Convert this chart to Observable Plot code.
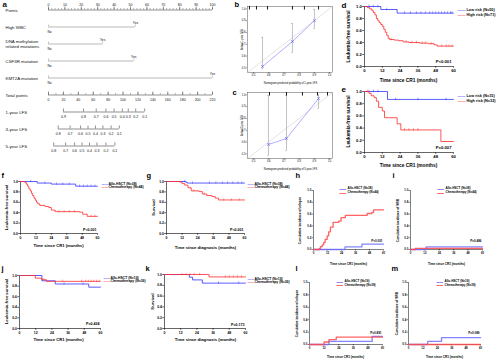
<!DOCTYPE html>
<html><head><meta charset="utf-8">
<script src="https://cdn.jsdelivr.net/npm/d3@7"></script>
<script src="https://cdn.jsdelivr.net/npm/@observablehq/plot@0.6"></script>
<style>
html,body{margin:0;padding:0;background:#fff;}
#wrap{position:relative;width:500px;height:362px;overflow:hidden;background:#fff;}
#wrap svg{position:absolute;overflow:visible;background:transparent;max-width:none;}
</style></head><body><div id="wrap"></div>
<script>
// ---------------- DATA ----------------
// a: nomogram
const nomoRows = ["Points","High WBC","DNA methylation related mutations","CSF3R mutation","KMT2A mutation","Total points","1-year LFS","3-year LFS","5-year LFS"];
const nomoRowLabels = ["Points","High WBC","DNA methylation\nrelated mutations","CSF3R mutation","KMT2A mutation","Total points","1-year LFS","3-year LFS","5-year LFS"];
const nomoVars = ["High WBC","DNA methylation related mutations","CSF3R mutation","KMT2A mutation"];
const nomoLevels = ["No","Yes"];
const nomoNoPoints = [0,0,0,0];
const nomoYesPoints = [53,33,52,100];
const pointTicks = [0,10,20,30,40,50,60,70,80,90,100];
const totalPointTicks = [0,20,40,60,80,100,120,140,160,180,200,220];
const totalPointSpan = 220;
const lfs1Labels = ["0.9","0.8","0.7","0.6","0.5","0.4","0.3","0.2","0.1"];
const lfs1Total = [20,47,64,77,88,99,107,117,129];
const lfs3Labels = ["0.8","0.7","0.6","0.5","0.4","0.3","0.2","0.1"];
const lfs3Total = [13,29,43,53,63,73,84,95];
const lfs5Labels = ["0.8","0.7","0.6","0.5","0.4","0.3","0.2","0.1"];
const lfs5Total = [7,23,35,45,55,65,77,89];

// b, c: calibration
const calibDomain = [0.46, 1.02];
const calibTicks = [0.5,0.6,0.7,0.8,0.9,1.0];
const bPred = [0.559,0.756,0.901];
const bObs  = [0.511,0.723,0.901];
const bLo   = [0.494,0.630,0.833];
const bHi   = [0.757,0.876,0.995];
const bRug  = [0.473,0.519,0.592,0.756,0.835,0.928];
const cPred = [0.598,0.717,0.928];
const cObs  = [0.579,0.630,0.969];
const cLo   = [0.485,0.528,0.884];
const cHi   = [0.995,0.995,1.0];
const cRug  = [0.605,0.717,0.822,0.921,0.987];

// survival axes
const monthTicks = [0,12,24,36,48,60];
const probTicks = [0,0.2,0.4,0.6,0.8,1.0];

// d
const dLowT = [0,11,22,60];            const dLowS = [1,0.95,0.89,0.89];
const dLowC = [3,6,9,15,27,31,35,38,41,44,46,48,50,52,54,56,58,59];
const dHighT = [0,2,3.5,5,6,7,8,9,10,11,12,13,14,15,16,17,20,23,26,30,37,43,47,49,60];
const dHighS = [1,0.98,0.96,0.93,0.90,0.86,0.80,0.76,0.73,0.70,0.67,0.62,0.57,0.52,0.47,0.45,0.44,0.43,0.41,0.40,0.39,0.38,0.36,0.34,0.34];
const dHighC = [18,28,32,35,39,41,45,52,55,57,59];
// e
const eLowT = [0,15.5,60];             const eLowS = [1,0.87,0.87];
const eLowC = [3,6,9,21,36,55];
const eHighT = [0,3,4.5,6.5,8,9.5,12,13.5,22,24.5,51.5,60];
const eHighS = [1,0.97,0.93,0.90,0.84,0.74,0.68,0.57,0.47,0.37,0.18,0.18];
const eHighC = [2,27,30,33,36];
// f
const fAlloT = [0,13,24,43,60];        const fAlloS = [1,0.97,0.95,0.91,0.91];
const fAlloC = [8,19,28,33,38,46,49,52,55,58];
const fChemoT = [0,3.5,4.5,5.5,6.5,7.5,8.5,9.5,10.5,11.5,12.5,13.5,15,19,22,24,27,46,48.5,52,60];
const fChemoS = [1,0.98,0.95,0.91,0.86,0.82,0.77,0.73,0.68,0.64,0.60,0.57,0.54,0.52,0.50,0.45,0.42,0.41,0.37,0.33,0.33];
const fChemoC = [30,34,38,42,55,58];
// g
const gAlloT = [0,15,16,60];           const gAlloS = [1,0.98,0.97,0.97];
const gAlloC = [14,20,33,38,43,47,51,55,58];
const gChemoT = [0,10,12,14,16.5,19,25,27.5,31,35,37.5,40,60];
const gChemoS = [1,0.99,0.96,0.93,0.88,0.82,0.81,0.76,0.73,0.71,0.68,0.645,0.645];
const gChemoC = [21,29,44,50,56];
// h (cumulative incidence of relapse)
const hAlloT = [0,27,41.5,60];         const hAlloS = [0,0.045,0.09,0.09];
const hChemoT = [0,5,6,7.5,8.8,10,11.7,13,14.5,16.8,21.6,23.6,27.3,46,50,51.5,60];
const hChemoS = [0,0.02,0.05,0.08,0.12,0.17,0.23,0.30,0.38,0.46,0.48,0.54,0.58,0.61,0.63,0.67,0.67];
// i (cumulative incidence of NRM)
const iAlloT = [0,13,60];              const iAlloS = [0,0.045,0.045];
const iChemoT = [0,4,60];              const iChemoS = [0,0.02,0.02];
// j
const jAlloT = [0,16.6,26.5,51.3,60];  const jAlloS = [1,0.90,0.84,0.78,0.78];
const jAlloC = [33,47];
const jChemoT = [0,11.7,16.6,20,60];   const jChemoS = [1,0.95,0.92,0.89,0.89];
const jChemoC = [18,32,46,49,51,53,55,57,59];
// k
const kAlloT = [0,18.4,20.8,28,60];    const kAlloS = [1,0.95,0.90,0.84,0.84];
const kAlloC = [40,55];
const kChemoT = [0,33,60];             const kChemoS = [1,0.955,0.955];
const kChemoC = [13,16,19,22,26,45,48,51,54,57];
// l
const lAlloT = [0,16,51.5,60];         const lAlloS = [0,0.05,0.13,0.13];
const lChemoT = [0,12,16,22,60];       const lChemoS = [0,0.04,0.08,0.12,0.12];
// m
const mAlloT = [0,16,27.5,60];         const mAlloS = [0,0.05,0.11,0.11];
const mChemoT = [0,60];                const mChemoS = [0,0];

// ---------------- HELPERS ----------------
const wrap = document.getElementById("wrap");
const FONT = "'Liberation Sans', Arial, Helvetica, sans-serif";
const BLUE = "#3232ff", RED = "#ff2a2a";
const CBLUE = "#6f6fff", CRED = "#ff4848";

function mount(svg, box){ svg.style.left = box[0]+"px"; svg.style.top = box[1]+"px"; wrap.appendChild(svg); }
function at(frame, x, y){ return {frameAnchor:"top-left", textAnchor:"middle", lineAnchor:"middle", dx: x - frame[0], dy: y - frame[1]}; }
function margins(box, frame){
  return {width: box[2], height: box[3], marginLeft: frame[0]-box[0], marginTop: frame[1]-box[1],
          marginRight: box[0]+box[2]-frame[2], marginBottom: box[1]+box[3]-frame[3]};
}
const toPts = (T, S) => T.map((t, i) => ({t, s: S[i]}));
const stepAt = (T, S, t) => { let v = S[0]; for (let i = 0; i < T.length; i++) if (T[i] <= t) v = S[i]; return v; };

function curvePanel(o){
  const f = o.frame;
  const marks = [
    Plot.ruleX([monthTicks[0]], {stroke:"#000", strokeWidth:o.axisW}),
    Plot.ruleY([probTicks[0]], {stroke:"#000", strokeWidth:o.axisW}),
    Plot.axisX({ticks: monthTicks, tickSize: o.tickLen, tickPadding: 0.8, fontSize: o.tickFont, strokeWidth: o.axisW, tickFormat: d => String(d), label: null}),
    Plot.axisY({ticks: probTicks, tickSize: o.tickLen, tickPadding: 0.8, fontSize: o.tickFont, strokeWidth: o.axisW, tickFormat: d3.format(".1f"), label: null})
  ];
  o.series.forEach((s, i) => {
    marks.push(Plot.line(toPts(s.T, s.S), {x:"t", y:"s", curve:"step-after", stroke:s.color, strokeWidth:o.lineW, strokeOpacity:o.lineOpacity}));
    if (s.C) marks.push(Plot.ruleX(s.C.map(t => ({t, s: stepAt(s.T, s.S, t)})),
      {x:"t", y1: d => d.s - 0.022, y2: d => d.s + 0.022, stroke:s.color, strokeWidth:0.45}));
    marks.push(Plot.text([o.swatch], {...at(f, o.legSwatchX, o.legY[i]), textAnchor:"start", fill:s.color, fillOpacity:o.lineOpacity, fontSize:o.swatchFont}));
    marks.push(Plot.text([s.name], {...at(f, o.legTextX, o.legY[i]), textAnchor:"start", fontSize:o.legFont}));
  });
  marks.push(Plot.text([o.p], {...at(f, o.pPos[0], o.pPos[1]), textAnchor:"end", fontSize:o.pFont}));
  marks.push(Plot.text([o.xTitle], {...at(f, o.xTitlePos[0], o.xTitlePos[1]), fontSize:o.titleFont}));
  marks.push(Plot.text([o.yTitle], {...at(f, o.yTitlePos[0], o.yTitlePos[1]), rotate:-90, fontSize:o.titleFont}));
  marks.push(Plot.text([o.letter], {...at(f, o.letterPos[0], o.letterPos[1]), textAnchor:"start", fontSize:o.letterFont}));
  const svg = Plot.plot({
    ...margins(o.box, f),
    x: {domain:[monthTicks[0], monthTicks[monthTicks.length-1]]},
    y: {domain:[probTicks[0], probTicks[probTicks.length-1]]},
    style: {fontFamily: FONT, fontWeight: "bold", background: "transparent", overflow: "visible"},
    marks
  });
  mount(svg, o.box);
}

const kmBase = {axisW:0.6, tickLen:1.8, lineW:0.8, lineOpacity:1, swatch:"——", swatchFont:4, letterFont:8};
const ciBase = {axisW:0.5, tickLen:1.5, lineW:1.3, lineOpacity:0.85, swatch:"▬▬", swatchFont:3.2, letterFont:8};

// ---------------- a: NOMOGRAM ----------------
{
  const varData = nomoVars.map((v, i) => ({v, no: nomoNoPoints[i], yes: nomoYesPoints[i]}));
  const varEnds = varData.flatMap(d => [{v:d.v, x:d.no}, {v:d.v, x:d.yes}]);
  const pointMinor = d3.range(pointTicks[0], pointTicks[pointTicks.length-1] + 1, 2);
  const totalMinor = d3.range(totalPointTicks[0], totalPointTicks[totalPointTicks.length-1] + 1, 10);
  const tp = v => v * 100 / totalPointSpan;
  const lfsAxes = [
    {row:"1-year LFS", labels:lfs1Labels, total:lfs1Total},
    {row:"3-year LFS", labels:lfs3Labels, total:lfs3Total},
    {row:"5-year LFS", labels:lfs5Labels, total:lfs5Total}
  ];
  const lfsTicks = lfsAxes.flatMap(a => a.labels.map((lab, i) => ({row:a.row, lab, x: tp(a.total[i])})));
  const lfsLines = lfsAxes.map(a => ({row:a.row, x1: tp(d3.min(a.total)), x2: tp(d3.max(a.total))}));
  const AX = "#222";
  const svg = Plot.plot({
    width: 222, height: 160, marginLeft: 48, marginRight: 10, marginTop: 0, marginBottom: 0,
    x: {domain: [0, 100], axis: null},
    y: {type: "band", domain: nomoRows, range: [0.5, 153.5], padding: 0, axis: null},
    style: {fontFamily: FONT, background: "transparent", overflow: "visible", color: "#111"},
    marks: [
      Plot.text(nomoRows, {y: d => d, frameAnchor: "left", dx: -43, textAnchor: "start", text: (d, i) => nomoRowLabels[i], fontSize: 4.4, lineHeight: 1.15}),
      // points axis
      Plot.ruleY(["Points"], {y: d => d, x1: () => pointTicks[0], x2: () => pointTicks[pointTicks.length-1], stroke: AX, strokeWidth: 0.5}),
      Plot.tickX(pointMinor, {x: d => d, y: () => "Points", insetTop: 7, insetBottom: 8.5, stroke: AX, strokeWidth: 0.35}),
      Plot.tickX(pointTicks, {x: d => d, y: () => "Points", insetTop: 5.5, insetBottom: 8.5, stroke: AX, strokeWidth: 0.5}),
      Plot.text(pointTicks, {x: d => d, y: () => "Points", dy: -5.2, fontSize: 3.5}),
      // predictors
      Plot.ruleY(varData, {y: "v", x1: "no", x2: "yes", stroke: "#8a8a8a", strokeWidth: 0.6}),
      Plot.tickX(varEnds, {x: "x", y: "v", insetTop: 6.5, insetBottom: 8.5, stroke: "#8a8a8a", strokeWidth: 0.5}),
      Plot.text(varData, {x: "no", y: "v", dy: 4.6, dx: 1, text: () => nomoLevels[0], fontSize: 3.3}),
      Plot.text(varData, {x: "yes", y: "v", dy: -4, text: () => nomoLevels[1], fontSize: 3.3}),
      // total points
      Plot.ruleY(["Total points"], {y: d => d, x1: () => tp(totalPointTicks[0]), x2: () => tp(totalPointTicks[totalPointTicks.length-1]), stroke: AX, strokeWidth: 0.5}),
      Plot.tickX(totalMinor, {x: d => tp(d), y: () => "Total points", insetTop: 7, insetBottom: 8.5, stroke: AX, strokeWidth: 0.35}),
      Plot.tickX(totalPointTicks, {x: d => tp(d), y: () => "Total points", insetTop: 5.5, insetBottom: 8.5, stroke: AX, strokeWidth: 0.5}),
      Plot.text(totalPointTicks, {x: d => tp(d), y: () => "Total points", dy: 4.6, fontSize: 3.5}),
      // LFS axes
      Plot.ruleY(lfsLines, {y: "row", x1: "x1", x2: "x2", stroke: AX, strokeWidth: 0.5}),
      Plot.tickX(lfsTicks, {x: "x", y: "row", insetTop: 5.5, insetBottom: 8.5, stroke: AX, strokeWidth: 0.5}),
      Plot.text(lfsTicks, {x: "x", y: "row", text: "lab", dy: 4.6, fontSize: 3.5}),
      Plot.text(["a"], {frameAnchor: "top-left", textAnchor: "start", lineAnchor: "middle", dx: -46, dy: 3.5, fontSize: 8, fontWeight: "bold"})
    ]
  });
  mount(svg, [0, 0]);
}

// ---------------- b, c: CALIBRATION ----------------
function calibPanel(o){
  const f = o.frame;
  const pts = o.pred.map((x, i) => ({x, y: o.obs[i], lo: o.lo[i], hi: o.hi[i]}));
  const capW = 0.006;
  const top = calibDomain[1];
  const svg = Plot.plot({
    ...margins(o.box, f),
    x: {domain: calibDomain}, y: {domain: calibDomain},
    style: {fontFamily: FONT, background: "transparent", overflow: "visible"},
    marks: [
      Plot.frame({stroke: "#555", strokeWidth: 0.5}),
      Plot.axisX({ticks: calibTicks, tickSize: 1.5, tickPadding: 0.6, fontSize: 2.6, strokeWidth: 0.4, tickFormat: d3.format(".1f"), label: null}),
      Plot.axisY({ticks: calibTicks, tickSize: 1.5, tickPadding: 0.6, fontSize: 2.6, strokeWidth: 0.4, tickFormat: d3.format(".1f"), label: null}),
      Plot.line(calibDomain.map(v => ({v})), {x: "v", y: "v", stroke: "#c8c8c8", strokeWidth: 0.5}),
      Plot.ruleX(pts, {x: "x", y1: "lo", y2: "hi", stroke: "#9a9a9a", strokeWidth: 0.6}),
      Plot.ruleY(pts, {y: "lo", x1: d => d.x - capW, x2: d => d.x + capW, stroke: "#9a9a9a", strokeWidth: 0.5}),
      Plot.ruleY(pts, {y: "hi", x1: d => d.x - capW, x2: d => d.x + capW, stroke: "#9a9a9a", strokeWidth: 0.5}),
      Plot.line(pts, {x: "x", y: "y", stroke: "#8c8cff", strokeWidth: 0.7}),
      Plot.dot(pts, {x: "x", y: "y", symbol: "times", r: 1.3, stroke: "#5555ff", strokeWidth: 0.6}),
      Plot.ruleX(o.rug, {x: d => d, y1: () => top, y2: () => top - 0.03, stroke: "#000", strokeWidth: 0.9}),
      Plot.text([o.xTitle], {...at(f, o.xTitlePos[0], o.xTitlePos[1]), fontSize: 2.6}),
      Plot.text([o.yTitle], {...at(f, o.yTitlePos[0], o.yTitlePos[1]), rotate: -90, fontSize: 2.6}),
      Plot.text([o.letter], {...at(f, o.letterPos[0], o.letterPos[1]), fontSize: 7.5, fontWeight: "bold", textAnchor: "start"})
    ]
  });
  mount(svg, o.box);
}
calibPanel({box:[222,0,113,88], frame:[247,6,332,72], pred:bPred, obs:bObs, lo:bLo, hi:bHi, rug:bRug,
  xTitle:"Nomogram-predicted probability of 1-year LFS", xTitlePos:[290,83], yTitle:"Actual 1-year LFS", yTitlePos:[242,39],
  letter:"b", letterPos:[234,4]});
calibPanel({box:[222,86,113,86], frame:[247,92,332,158], pred:cPred, obs:cObs, lo:cLo, hi:cHi, rug:cRug,
  xTitle:"Nomogram-predicted probability of 3-year LFS", xTitlePos:[290,169], yTitle:"Actual 3-year LFS", yTitlePos:[242,125],
  letter:"c", letterPos:[232,92]});

// ---------------- d, e ----------------
const riskOpts = {...kmBase, tickFont:4.2, titleFont:4.8, legFont:3.8, pFont:4.2, swatchFont:4};
curvePanel({...riskOpts, box:[335,0,125,85], frame:[364,6,453,66],
  series:[{name:"Low risk (N=50)", color:BLUE, T:dLowT, S:dLowS, C:dLowC},{name:"High risk (N=71)", color:RED, T:dHighT, S:dHighS, C:dHighC}],
  legSwatchX:457, legTextX:466, legY:[9,14], p:"P<0.001", pPos:[451,61],
  xTitle:"Time since CR1 (months)", xTitlePos:[408,80], yTitle:"Leukemia-free survival", yTitlePos:[348,36],
  letter:"d", letterPos:[341,5]});
curvePanel({...riskOpts, box:[335,85,125,85], frame:[364,91,453,152],
  series:[{name:"Low risk (N=15)", color:BLUE, T:eLowT, S:eLowS, C:eLowC},{name:"High risk (N=32)", color:RED, T:eHighT, S:eHighS, C:eHighC}],
  legSwatchX:457, legTextX:466, legY:[95,100], p:"P=0.007", pPos:[451,147],
  xTitle:"Time since CR1 (months)", xTitlePos:[408,165], yTitle:"Leukemia-free survival", yTitlePos:[348,121],
  letter:"e", letterPos:[341,89]});

// ---------------- f, g, j, k ----------------
const smallKM = {...kmBase, tickFont:3.4, titleFont:4.2, legFont:3.4, pFont:3.6, swatchFont:3.2, letterFont:7.5};
curvePanel({...smallKM, box:[0,170,100,82], frame:[20,181,97,233],
  series:[{name:"Allo-HSCT (N=38)", color:BLUE, T:fAlloT, S:fAlloS, C:fAlloC},{name:"Chemotherapy (N=44)", color:RED, T:fChemoT, S:fChemoS, C:fChemoC}],
  legSwatchX:101, legTextX:108, legY:[183,186.5], p:"P<0.001", pPos:[96,229],
  xTitle:"Time since CR1 (months)", xTitlePos:[58,245], yTitle:"Leukemia-free survival", yTitlePos:[6,207],
  letter:"f", letterPos:[1,175]});
curvePanel({...smallKM, box:[146,170,101,82], frame:[166,181,244,233],
  series:[{name:"Allo-HSCT (N=38)", color:BLUE, T:gAlloT, S:gAlloS, C:gAlloC},{name:"Chemotherapy (N=44)", color:RED, T:gChemoT, S:gChemoS, C:gChemoC}],
  legSwatchX:247, legTextX:254, legY:[183,186.5], p:"P<0.001", pPos:[243,229],
  xTitle:"Time since diagnosis (months)", xTitlePos:[205,247], yTitle:"Survival", yTitlePos:[153,207],
  letter:"g", letterPos:[146,175]});
curvePanel({...smallKM, box:[0,263,103,85], frame:[19,275,100,328],
  series:[{name:"Allo-HSCT (N=19)", color:BLUE, T:jAlloT, S:jAlloS, C:jAlloC},{name:"Chemotherapy (N=39)", color:RED, T:jChemoT, S:jChemoS, C:jChemoC}],
  legSwatchX:103, legTextX:110, legY:[277,280.5], p:"P=0.424", pPos:[99,323],
  xTitle:"Time since CR1 (months)", xTitlePos:[58,339], yTitle:"Leukemia-free survival", yTitlePos:[6,301],
  letter:"j", letterPos:[1,268]});
curvePanel({...smallKM, box:[146,263,102,85], frame:[164,274,245,328],
  series:[{name:"Allo-HSCT (N=19)", color:BLUE, T:kAlloT, S:kAlloS, C:kAlloC},{name:"Chemotherapy (N=39)", color:RED, T:kChemoT, S:kChemoS, C:kChemoC}],
  legSwatchX:247, legTextX:254, legY:[278,281.5], p:"P=0.173", pPos:[244,324],
  xTitle:"Time since diagnosis (months)", xTitlePos:[205,339], yTitle:"Survival", yTitlePos:[152,301],
  letter:"k", letterPos:[145,268]});

// ---------------- h, i, l, m ----------------
const ciOpts = {...ciBase, tickFont:2.8, titleFont:3.1, legFont:3, pFont:3, swatchFont:3.2, letterFont:7.5};
curvePanel({...ciOpts, box:[290,170,96,100], frame:[313,190,383,249],
  series:[{name:"Allo-HSCT (N=38)", color:CBLUE, T:hAlloT, S:hAlloS},{name:"Chemotherapy (N=44)", color:CRED, T:hChemoT, S:hChemoS}],
  legSwatchX:339, legTextX:347, legY:[188,192], p:"P<0.001", pPos:[382,241],
  xTitle:"Time since CR1 (months)", xTitlePos:[348,263], yTitle:"Cumulative incidence of relapse", yTitlePos:[299,220],
  letter:"h", letterPos:[295,175]});
curvePanel({...ciOpts, box:[388,170,100,100], frame:[410,190,482,249],
  series:[{name:"Allo-HSCT (N=38)", color:CBLUE, T:iAlloT, S:iAlloS},{name:"Chemotherapy (N=44)", color:CRED, T:iChemoT, S:iChemoS}],
  legSwatchX:437, legTextX:445, legY:[188,192], p:"P=0.486", pPos:[481,241],
  xTitle:"Time since CR1 (months)", xTitlePos:[446,263], yTitle:"Cumulative incidence of NRM", yTitlePos:[397,220],
  letter:"i", letterPos:[392,175]});
curvePanel({...ciOpts, box:[290,263,96,99], frame:[309,282,382,344],
  series:[{name:"Allo-HSCT (N=19)", color:CBLUE, T:lAlloT, S:lAlloS},{name:"Chemotherapy (N=39)", color:CRED, T:lChemoT, S:lChemoS}],
  legSwatchX:336, legTextX:344, legY:[281,284.5], p:"P=0.891", pPos:[381,333],
  xTitle:"Time since CR1 (months)", xTitlePos:[345,356], yTitle:"Cumulative incidence of relapse", yTitlePos:[296,313],
  letter:"l", letterPos:[295,268]});
curvePanel({...ciOpts, box:[388,263,100,99], frame:[408,282,480,344],
  series:[{name:"Allo-HSCT (N=19)", color:CBLUE, T:mAlloT, S:mAlloS},{name:"Chemotherapy (N=39)", color:CRED, T:mChemoT, S:mChemoS}],
  legSwatchX:436, legTextX:444, legY:[281,284.5], p:"P=0.089", pPos:[479,333],
  xTitle:"Time since CR1 (months)", xTitlePos:[444,356], yTitle:"Cumulative incidence of NRM", yTitlePos:[396,313],
  letter:"m", letterPos:[391,268]});
</script></body></html>
